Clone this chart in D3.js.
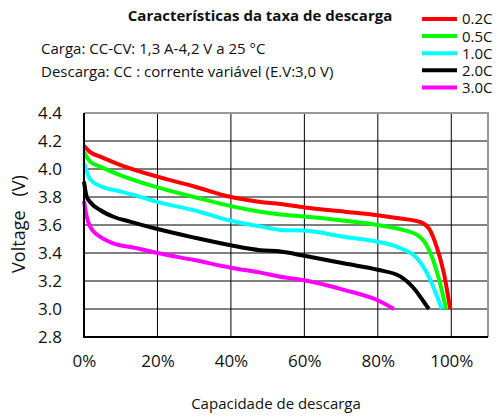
<!DOCTYPE html>
<html>
<head>
<meta charset="utf-8">
<script src="https://cdn.jsdelivr.net/npm/d3@7"></script>
<style>
  body { margin: 0; background: #fff; }
  svg { display: block; font-family: "Open Sans", sans-serif; }
</style>
</head>
<body>
<div id="chart"></div>
<script>
{
  // series: [capacity %, voltage V]
  const rate02 = [[0, 4.165], [1.6, 4.122], [4.4, 4.088], [9.8, 4.03], [20, 3.945], [30, 3.875], [40, 3.80], [48, 3.765], [53.5, 3.75], [60, 3.725], [71, 3.695], [80, 3.67], [86.2, 3.646], [91.6, 3.62], [93.9, 3.576], [96.2, 3.43], [98, 3.255], [99.7, 3.0]];
  const rate05 = [[0, 4.12], [1.6, 4.055], [4.4, 4.017], [9.8, 3.957], [20, 3.869], [30, 3.80], [40, 3.735], [48, 3.695], [53.5, 3.675], [60, 3.66], [71, 3.63], [80, 3.60], [86.2, 3.569], [90.7, 3.529], [93.5, 3.445], [96.2, 3.255], [98.6, 3.0]];
  const rate10 = [[0, 4.045], [1.6, 3.93], [4.4, 3.878], [9.8, 3.84], [13.5, 3.815], [20, 3.765], [30, 3.705], [40, 3.63], [48, 3.59], [53.5, 3.565], [60, 3.56], [71, 3.515], [80, 3.48], [86.2, 3.434], [90.7, 3.362], [94.3, 3.207], [96.5, 3.064], [97.4, 3.0]];
  const rate20 = [[0, 3.91], [0.7, 3.805], [1.6, 3.766], [4.4, 3.707], [8, 3.659], [12.5, 3.624], [20, 3.571], [30, 3.51], [40, 3.455], [48, 3.42], [53.5, 3.41], [60, 3.38], [71, 3.325], [80, 3.28], [86.2, 3.231], [89.8, 3.148], [92.5, 3.052], [93.9, 3.0]];
  const rate30 = [[0, 3.77], [0.7, 3.665], [1.6, 3.592], [4.4, 3.516], [8, 3.469], [14.4, 3.434], [20, 3.40], [30, 3.35], [40, 3.295], [48, 3.26], [53.5, 3.23], [60, 3.205], [71, 3.135], [79.8, 3.064], [84.4, 3.0]];

  const seriesNames = ['0.2C', '0.5C', '1.0C', '2.0C', '3.0C'];
  const seriesColors = ['#ff0000', '#00ff00', '#00ffff', '#000000', '#ff00ff'];
  const seriesData = [rate02, rate05, rate10, rate20, rate30];

  const xTicks = [0, 20, 40, 60, 80, 100];
  const yTicks = [2.8, 3.0, 3.2, 3.4, 3.6, 3.8, 4.0, 4.2, 4.4];

  const titleText = 'Características da taxa de descarga';
  const noteLines = ['Carga: CC-CV: 1,3 A-4,2 V a 25 °C', 'Descarga: CC : corrente variável (E.V:3,0 V)'];

  const width = 500;
  const height = 416;
  const plot = { left: 84, right: 488, top: 113, bottom: 337 };

  const svg = d3.select('#chart').append('svg')
    .attr('width', width)
    .attr('height', height);

  const x = d3.scaleLinear().domain([0, 110]).range([plot.left, plot.right]);
  const y = d3.scaleLinear().domain([2.8, 4.4]).range([plot.bottom, plot.top]);

  // grid
  svg.append('g')
    .selectAll('line')
    .data(yTicks.slice(1, -1))
    .join('line')
    .attr('x1', plot.left).attr('x2', plot.right)
    .attr('y1', (d) => y(d)).attr('y2', (d) => y(d))
    .attr('stroke', '#000').attr('stroke-width', 1);

  svg.append('g')
    .selectAll('line')
    .data(xTicks.slice(1))
    .join('line')
    .attr('x1', (d) => x(d)).attr('x2', (d) => x(d))
    .attr('y1', plot.top).attr('y2', plot.bottom)
    .attr('stroke', '#000').attr('stroke-width', 1);

  // curves
  const line = d3.line()
    .x((d) => x(d[0]))
    .y((d) => y(d[1]))
    .curve(d3.curveMonotoneX);

  svg.append('g')
    .selectAll('path')
    .data(seriesData)
    .join('path')
    .attr('d', line)
    .attr('fill', 'none')
    .attr('stroke', (d, i) => seriesColors[i])
    .attr('stroke-width', 4)
    .attr('stroke-linejoin', 'round');

  // frame: grey top/right, black left/bottom (drawn over the curves)
  svg.append('path')
    .attr('d', `M${plot.left},${plot.top}H${plot.right}V${plot.bottom}`)
    .attr('fill', 'none').attr('stroke', '#999').attr('stroke-width', 2);
  svg.append('path')
    .attr('d', `M${plot.left},${plot.top}V${plot.bottom}H${plot.right}`)
    .attr('fill', 'none').attr('stroke', '#000').attr('stroke-width', 2);

  // axes (labels only)
  const yAxis = svg.append('g')
    .attr('transform', `translate(${plot.left},0)`)
    .call(d3.axisLeft(y).tickValues(yTicks).tickFormat(d3.format('.1f')).tickSize(0).tickPadding(22));
  yAxis.select('.domain').remove();
  yAxis.selectAll('text').attr('font-size', 17).attr('fill', '#111').attr('font-family', '"Open Sans", sans-serif');

  const xAxis = svg.append('g')
    .attr('transform', `translate(0,${plot.bottom})`)
    .call(d3.axisBottom(x).tickValues(xTicks).tickFormat((d) => `${d}%`).tickSize(0).tickPadding(18));
  xAxis.select('.domain').remove();
  xAxis.selectAll('text').attr('font-size', 17).attr('fill', '#111').attr('font-family', '"Open Sans", sans-serif');

  // titles
  svg.append('text')
    .attr('x', 260).attr('y', 21)
    .attr('text-anchor', 'middle')
    .attr('font-size', 15).attr('font-weight', 'bold')
    .attr('fill', '#111')
    .text(titleText);

  svg.selectAll('.note')
    .data(noteLines)
    .join('text')
    .attr('class', 'note')
    .attr('x', 41).attr('y', (d, i) => 54 + i * 23)
    .attr('font-size', 15).attr('fill', '#111')
    .text((d) => d);

  svg.append('text')
    .attr('x', 276).attr('y', 409)
    .attr('text-anchor', 'middle')
    .attr('font-size', 15).attr('fill', '#111')
    .text('Capacidade de descarga');

  svg.append('text')
    .attr('transform', 'translate(25,224) rotate(-90)')
    .attr('text-anchor', 'middle')
    .attr('font-size', 18).attr('fill', '#111')
    .attr('xml:space', 'preserve')
    .text('Voltage\u00a0\u00a0\u00a0(V)');

  // legend
  const legend = svg.append('g')
    .selectAll('g')
    .data(seriesNames)
    .join('g')
    .attr('transform', (d, i) => `translate(422,${19 + i * 17.1})`);
  legend.append('line')
    .attr('x1', 0).attr('x2', 35)
    .attr('stroke', (d, i) => seriesColors[i])
    .attr('stroke-width', 4);
  legend.append('text')
    .attr('x', 40).attr('dy', '0.36em')
    .attr('font-size', 15).attr('fill', '#111')
    .text((d) => d);
}
</script>
</body>
</html>
